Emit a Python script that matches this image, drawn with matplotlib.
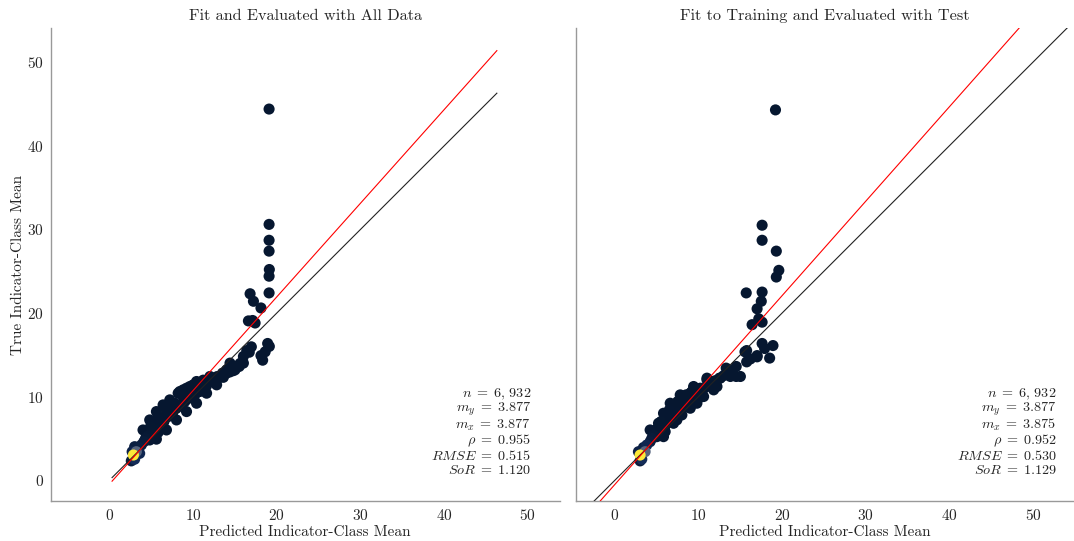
import numpy as np
import matplotlib
matplotlib.use("Agg")
import matplotlib.pyplot as plt
from matplotlib.colors import LinearSegmentedColormap

plt.rcParams["font.family"] = ["cmr10", "DejaVu Serif"]
plt.rcParams["mathtext.fontset"] = "cm"
plt.rcParams["axes.formatter.use_mathtext"] = True
plt.rcParams["axes.unicode_minus"] = False

TEXT = "#262626"

# ---- panel 1: fit and evaluated with all data ----
all_pred = [
    2.85, 3.0, 3.2, 2.7, 3.6, 3.5, 3.8, 3.0, 2.6, 4.1, 4.3, 4.6, 4.8, 5.0, 5.3, 5.2,
    5.6, 5.8, 6.0, 6.3, 4.0, 4.8, 5.6, 6.4, 7.2, 8.2, 9.2, 10.4, 11.4,
    5.6, 6.8, 8.0, 9.2, 10.4, 11.6, 12.8, 6.6, 7.0, 7.6, 9.0, 10.2, 8.4, 8.8,
    9.6, 10.0, 11.2, 10.8, 12.0, 12.8, 13.0, 13.5, 14.0, 14.4, 14.4, 15.0, 15.6,
    16.0, 16.4, 11.6, 12.2, 13.6, 14.8, 15.2,
    4.4, 5.0, 5.5, 6.0, 6.5, 7.0, 7.5, 8.0, 8.5, 9.0, 9.5, 10.0, 10.5, 11.0,
    11.5, 12.0, 12.5, 13.0, 13.5, 14.0, 14.5, 15.0, 15.5, 16.0, 4.9, 5.8, 6.8,
    7.8, 8.8, 9.8, 10.8,
    19.07, 19.07, 19.07, 19.07, 19.1, 19.07, 19.07, 16.8, 17.2, 18.1, 16.6, 17.1,
    17.4, 16.95, 16.7, 18.9, 19.1, 18.3, 18.6, 18.1,
]
all_true = [
    3.0, 2.5, 3.4, 3.4, 3.2, 3.9, 4.2, 4.0, 2.3, 4.6, 5.0, 5.3, 4.8, 5.7, 6.1, 5.1,
    6.5, 5.7, 7.0, 7.4, 6.0, 7.2, 8.2, 9.0, 9.6, 10.4, 11.0, 11.8, 11.8,
    4.9, 6.0, 7.2, 8.2, 9.2, 10.4, 11.4, 7.6, 8.6, 8.2, 9.6, 10.2, 10.6, 10.8,
    11.2, 11.4, 11.96, 10.6, 12.4, 12.36, 12.2, 12.8, 13.2, 12.95, 14.0, 13.5, 13.96,
    14.8, 15.5, 11.3, 11.8, 12.3, 13.1, 13.6,
    4.8, 5.4, 6.0, 6.5, 7.0, 7.6, 8.0, 8.6, 9.0, 9.4, 9.8, 10.2, 10.6, 11.0,
    11.4, 11.8, 12.0, 12.4, 12.6, 12.8, 13.2, 13.2, 13.6, 14.0, 6.4, 7.4, 8.4,
    9.2, 10.0, 10.8, 11.4,
    44.4, 30.6, 28.7, 27.4, 25.2, 24.4, 22.4, 22.3, 21.4, 20.6, 19.05, 19.1,
    18.8, 15.95, 15.3, 16.35, 16.0, 14.35, 15.35, 14.9,
]
all_count = [
    3000, 700, 1500, 450, 600, 350, 260, 300, 250, 190, 120, 80, 60, 45, 30, 25,
    20, 16, 12, 10, 18, 12, 8, 6, 5, 4, 3, 3, 2,
    14, 9, 6, 5, 4, 3, 2, 8, 7, 6, 5, 4, 5, 4,
    3, 3, 2, 3, 2, 2, 2, 2, 2, 2, 2, 1, 1,
    1, 1, 2, 2, 1, 1, 1,
    70, 40, 28, 20, 15, 12, 10, 8, 7, 6, 5, 4, 4, 3,
    3, 3, 2, 2, 2, 2, 2, 1, 1, 1, 30, 16, 9,
    6, 5, 4, 3,
    1, 1, 1, 1, 1, 1, 1, 1, 1, 1, 1, 1,
    1, 1, 1, 1, 1, 1, 1, 1,
]

# ---- panel 2: fit to training, evaluated with test ----
test_pred = [
    3.0, 3.6, 3.2, 2.8, 3.8, 3.4, 4.2, 3.0, 4.4, 4.6, 5.0, 4.2, 5.2, 5.8, 5.8, 6.6,
    7.4, 7.8, 9.0, 9.4, 10.6, 11.0, 12.2, 6.6, 7.0, 8.2, 8.6, 9.8, 9.0, 11.8,
    12.6, 13.3, 13.8, 14.5, 14.5, 15.0, 11.0, 9.8, 7.8, 10.2, 12.0,
    4.8, 5.4, 6.0, 6.5, 7.0, 7.5, 8.0, 8.5, 9.0, 9.5, 10.0, 10.5, 11.5, 12.0,
    12.5, 13.0, 13.5, 14.0, 5.1, 6.2, 7.2, 8.2, 9.2,
    5.5, 6.5, 7.5, 8.5, 6.0, 7.0, 8.0, 9.0, 10.0, 11.0,
    15.75, 15.55, 17.0, 18.5, 17.6, 18.9, 17.9, 15.75, 16.2, 17.0,
    19.2, 17.6, 17.6, 19.3, 19.6, 19.3, 15.7, 17.6, 17.5, 17.0, 16.4, 17.2, 17.6,
]
test_true = [
    3.0, 3.4, 2.5, 3.4, 4.2, 3.9, 4.6, 2.3, 5.0, 5.4, 5.2, 6.0, 6.8, 8.0, 5.2, 9.2,
    7.2, 10.2, 8.8, 11.2, 10.0, 12.2, 11.2, 7.6, 8.4, 8.8, 9.6, 10.6, 10.4, 10.8,
    12.2, 13.4, 12.4, 12.4, 13.6, 12.4, 12.0, 9.2, 8.4, 11.0, 11.6,
    5.2, 5.9, 6.5, 7.0, 7.6, 8.1, 8.6, 9.0, 9.5, 9.9, 10.4, 10.8, 11.6, 11.9,
    12.2, 12.5, 12.8, 13.0, 6.2, 7.4, 8.6, 9.6, 10.6,
    7.0, 8.4, 9.4, 10.2, 5.8, 6.8, 7.8, 8.6, 9.8, 11.2,
    14.15, 15.35, 14.9, 14.6, 16.35, 16.1, 15.75, 15.5, 14.5, 14.75,
    44.3, 30.5, 28.7, 27.4, 25.1, 24.3, 22.4, 22.5, 21.4, 20.5, 18.6, 19.3, 18.9,
]
test_count = [
    3000, 1500, 700, 450, 600, 350, 260, 250, 190, 120, 80, 60, 30, 14, 40, 9,
    20, 6, 8, 4, 4, 3, 3, 12, 10, 7, 6, 4, 5, 3,
    2, 2, 2, 1, 2, 1, 3, 4, 6, 3, 2,
    70, 40, 28, 20, 15, 12, 10, 8, 7, 6, 5, 4, 3, 3,
    2, 2, 2, 2, 30, 16, 9, 6, 5,
    25, 12, 8, 5, 22, 11, 7, 5, 4, 3,
    1, 1, 1, 1, 1, 1, 1, 1, 1, 1,
    1, 1, 1, 1, 1, 1, 1, 1, 1, 1, 1, 1, 1,
]

titles = ["Fit and Evaluated with All Data", "Fit to Training and Evaluated with Test"]
stats = [
    dict(n="6,932", my="3.877", mx="3.877", rho="0.955", rmse="0.515", sor="1.120"),
    dict(n="6,932", my="3.877", mx="3.875", rho="0.952", rmse="0.530", sor="1.129"),
]
slopes = [1.120, 1.129]
means_x = [3.877, 3.875]
means_y = [3.877, 3.877]
line_spans = [(0.3, 46.3), (-10.0, 60.0)]
xlims = [(-7.0, 53.8), (-4.67, 54.8)]
ylim = (-2.5, 54.1)

cmap = LinearSegmentedColormap.from_list(
    "dens", ["#061730", "#0f2650", "#2c4a82", "#7c7b78", "#c8b86a", "#fde838"]
)

fig = plt.figure(figsize=(10.74, 5.41), dpi=100)
ax1 = fig.add_axes([51 / 1074, 40 / 541, 508.6 / 1074, 473 / 541])
ax2 = fig.add_axes([576 / 1074, 40 / 541, 497 / 1074, 473 / 541], sharey=ax1)
axes = [ax1, ax2]
data = [(all_pred, all_true, all_count), (test_pred, test_true, test_count)]
text_x = [0.944, 0.967]
# baselines of the six statistic lines, in pixels below the top of the axes
text_px = [369.5, 384, 401, 416.5, 431.5, 446.5]
AX_H = 473.0

for i, ax in enumerate(axes):
    px, ty, cnt = (np.asarray(a, dtype=float) for a in data[i])
    level = cnt / cnt.max()
    order = np.argsort(level)
    ax.scatter(px[order], ty[order], c=level[order], cmap=cmap, vmin=0, vmax=1,
               s=64, linewidths=0, zorder=2)

    lo, hi = line_spans[i]
    xs = np.array([lo, hi])
    ax.plot(xs, xs, color="#222222", lw=0.8, zorder=3)
    ax.plot(xs, slopes[i] * (xs - means_x[i]) + means_y[i], color="#ff0000",
            lw=0.8, zorder=3)

    s = stats[i]
    n_txt = s["n"].replace(",", r",\,")
    lines = [
        r"$n\;=\;%s$" % n_txt,
        r"$m_y\;=\;%s$" % s["my"],
        r"$m_x\;=\;%s$" % s["mx"],
        r"$\rho\;=\;%s$" % s["rho"],
        r"$RMSE\;=\;%s$" % s["rmse"],
        r"$SoR\;=\;%s$" % s["sor"],
    ]
    for line, off in zip(lines, text_px):
        ax.text(text_x[i], 1 - off / AX_H, line, transform=ax.transAxes,
                ha="right", va="baseline", fontsize=10.2, color=TEXT)

    ax.set_xlim(*xlims[i])
    ax.set_ylim(*ylim)
    ax.set_xticks([0, 10, 20, 30, 40, 50])
    ax.set_title(titles[i], fontsize=11.7, color=TEXT, pad=6)
    ax.set_xlabel("Predicted Indicator-Class Mean", fontsize=11, color=TEXT, labelpad=2)
    for side in ["top", "right"]:
        ax.spines[side].set_visible(False)
    for side in ["left", "bottom"]:
        ax.spines[side].set_color("#999999")
        ax.spines[side].set_linewidth(1.0)
    ax.tick_params(length=0, pad=5, labelsize=11, colors=TEXT)

ax1.set_yticks([0, 10, 20, 30, 40, 50])
ax1.set_ylabel("True Indicator-Class Mean", fontsize=11, color=TEXT, labelpad=2)
ax2.tick_params(axis="y", labelleft=False)

fig.savefig("out.png", dpi=100, facecolor="white")
